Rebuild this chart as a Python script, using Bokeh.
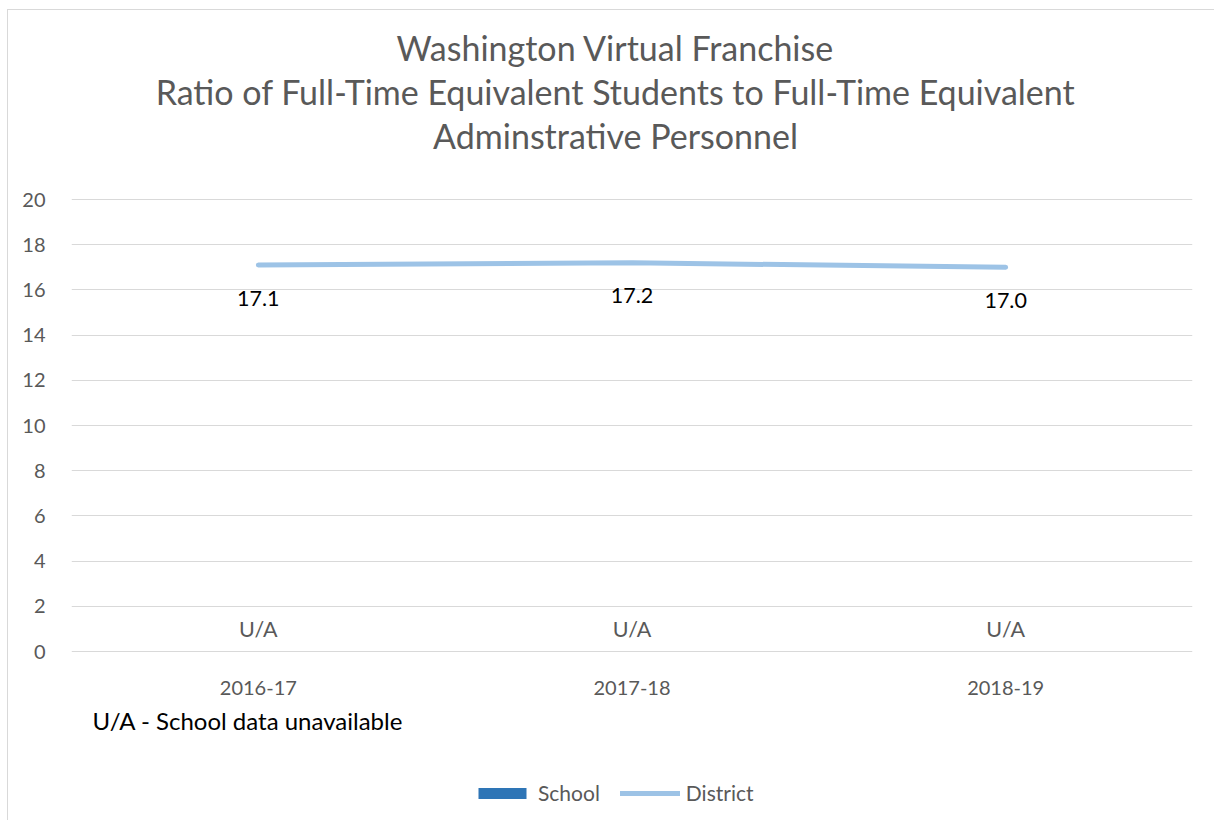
from bokeh.plotting import figure
from bokeh.models import ColumnDataSource, Legend, LegendItem, FactorRange, Range1d
from bokeh.core.properties import value
from bokeh.embed import file_html
from bokeh.resources import INLINE

years = ["2016-17", "2017-18", "2018-19"]
district = [17.1, 17.2, 17.0]
school = [0, 0, 0]
school_labels = ["U/A", "U/A", "U/A"]
district_labels = ["17.1", "17.2", "17.0"]
title_lines = ["Washington Virtual Franchise",
               "Ratio of Full-Time Equivalent Students to Full-Time Equivalent",
               "Adminstrative Personnel"]
footnote = "U/A - School data unavailable"

FONT = "Lato"
GREY = "#595959"

# layout (page pixels)
W, H = 1207, 811
CANVAS_X0, CANVAS_Y0 = 8, 10
FRAME_L, FRAME_R = 71, 1192
Y0_PX, Y20_PX = 651, 199
PX = (Y0_PX - Y20_PX) / 20.0

def v(py):
    return (Y0_PX - py) / PX

p = figure(x_range=FactorRange(*years, range_padding=0),
           y_range=Range1d(v(CANVAS_Y0 + H), v(CANVAS_Y0)),
           width=W, height=H, output_backend="svg", toolbar_location=None,
           x_axis_location=None,
           min_border_left=FRAME_L - CANVAS_X0, min_border_right=W - (FRAME_R - CANVAS_X0),
           min_border_top=0, min_border_bottom=0)
p.styles = {"border-left": "1px solid #d9d9d9", "border-top": "1px solid #d9d9d9",
            "margin-left": "7px", "margin-top": "9px"}
p.outline_line_color = None
p.background_fill_color = "white"
p.border_fill_color = "white"

src = ColumnDataSource(dict(x=years, d=district, s=school, sl=school_labels, dl=district_labels))

p.xgrid.grid_line_color = None
p.ygrid.grid_line_color = "#d9d9d9"
p.ygrid.grid_line_width = 1
p.yaxis.ticker = [0, 2, 4, 6, 8, 10, 12, 14, 16, 18, 20]
p.yaxis.axis_line_color = None
p.yaxis.major_tick_line_color = None
p.yaxis.minor_tick_line_color = None
p.yaxis.major_label_text_font = FONT
p.yaxis.major_label_text_font_size = "20px"
p.yaxis.major_label_text_color = GREY
p.yaxis.major_label_standoff = 20

bars = p.vbar(x="x", top="s", width=0.5, source=src, fill_color="#2E75B6", line_color=None)
line = p.line(x="x", y="d", source=src, line_color="#9DC3E6", line_width=5, line_cap="round")

p.text(x="x", y="d", text="dl", source=src, text_align="center", text_baseline="middle",
       y_offset=33, text_font=value(FONT), text_font_size="21.5px", text_color="black")
p.text(x="x", y="s", text="sl", source=src, text_align="center", text_baseline="middle",
       y_offset=-23, text_font=value(FONT), text_font_size="21.5px", text_color=GREY)
# category labels (x axis)
p.text(x="x", y="s", text="x", source=src, text_align="center", text_baseline="middle",
       y_offset=36, text_font=value(FONT), text_font_size="20px", text_color=GREY)

# title
cat_w = (FRAME_R - FRAME_L) / 3.0
mid_center = FRAME_L + 1.5 * cat_w
tsrc = ColumnDataSource(dict(x=[years[1]] * 3, y=[v(47), v(91), v(135)], t=title_lines))
p.text(x="x", y="y", text="t", source=tsrc, x_offset=615 - mid_center, text_align="center",
       text_baseline="middle", text_font=value(FONT), text_font_size="34px", text_color=GREY)

# footnote
first_center = FRAME_L + 0.5 * cat_w
fsrc = ColumnDataSource(dict(x=[years[0]], y=[v(720)], t=[footnote]))
p.text(x="x", y="y", text="t", source=fsrc, x_offset=92 - first_center, text_align="left",
       text_baseline="middle", text_font=value(FONT), text_font_size="24px", text_color="black")

legend = Legend(items=[LegendItem(label="School", renderers=[bars]),
                       LegendItem(label="District", renderers=[line])],
                orientation="horizontal", location=(482 - FRAME_L - 10, 16),
                label_text_font=FONT, label_text_font_size="21px", label_text_color=GREY,
                glyph_width=60, glyph_height=14, spacing=20, label_standoff=6,
                padding=5, margin=0,
                border_line_color=None, background_fill_alpha=0)
p.add_layout(legend, "center")

open("out.html", "w").write(file_html(p, INLINE))
